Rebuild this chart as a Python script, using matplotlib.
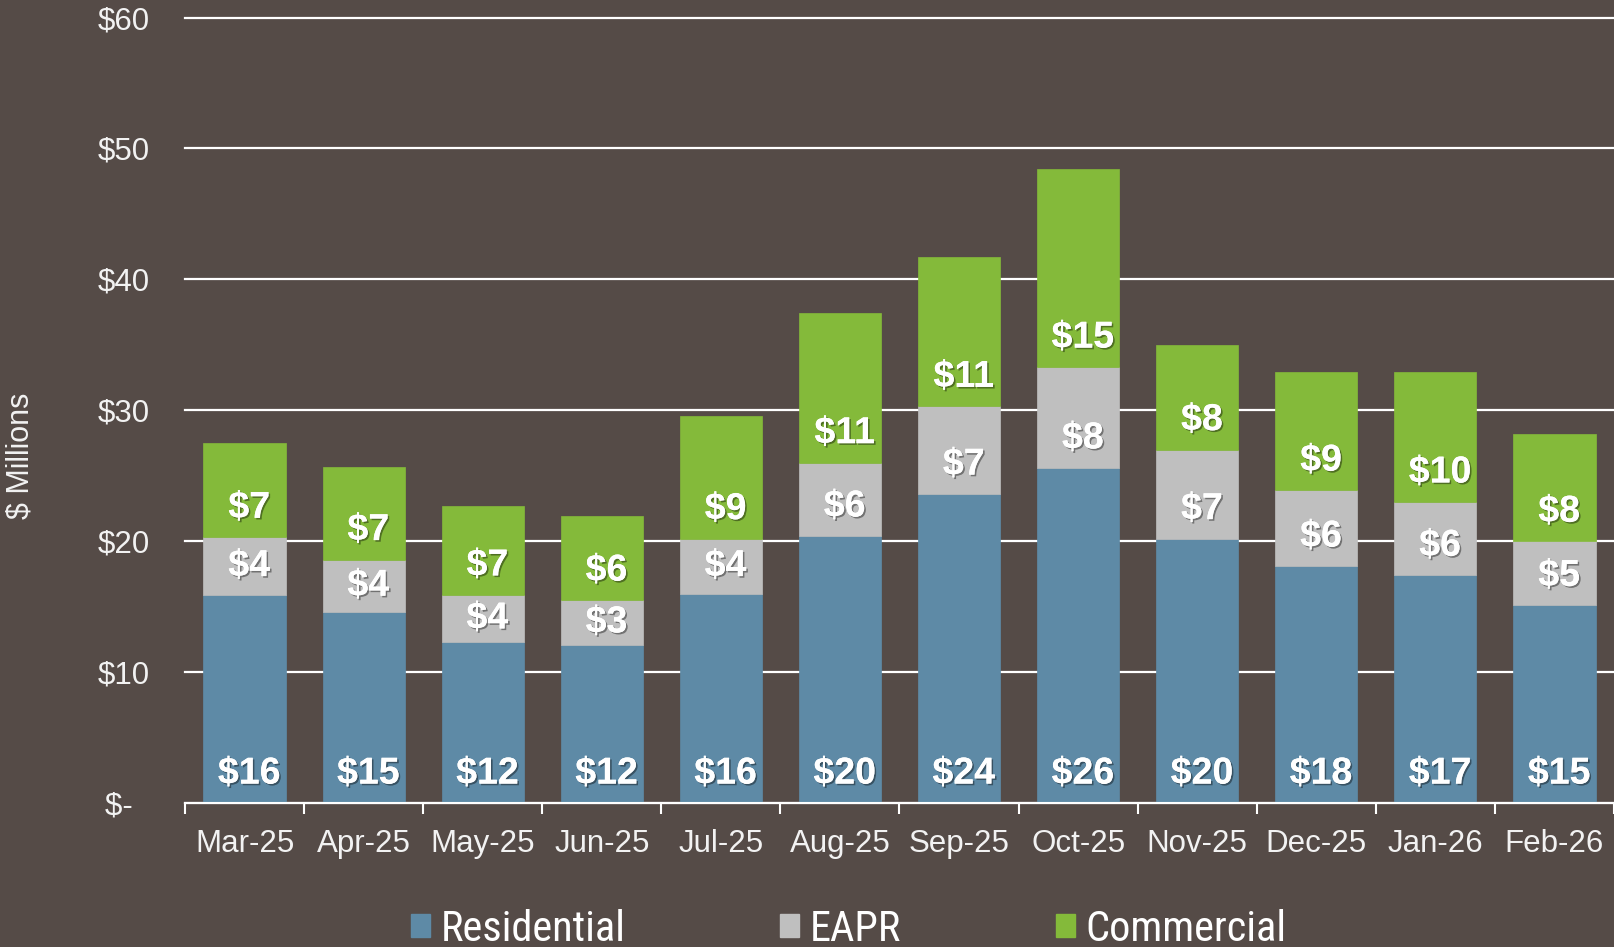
import matplotlib
matplotlib.use("Agg")
import matplotlib.pyplot as plt
import matplotlib.patheffects as pe
from matplotlib.patches import Patch
from matplotlib import font_manager
import numpy as np

months = ["Mar-25", "Apr-25", "May-25", "Jun-25", "Jul-25", "Aug-25",
          "Sep-25", "Oct-25", "Nov-25", "Dec-25", "Jan-26", "Feb-26"]
residential = [15.9, 14.6, 12.3, 12.1, 16.0, 20.4, 23.6, 25.6, 20.2, 18.1, 17.4, 15.1]
eapr = [4.4, 4.0, 3.6, 3.4, 4.2, 5.6, 6.7, 7.7, 6.8, 5.8, 5.6, 4.9]
commercial = [7.2, 7.1, 6.8, 6.4, 9.4, 11.4, 11.4, 15.1, 8.0, 9.0, 9.9, 8.2]
series_names = ["Residential", "EAPR", "Commercial"]
yticks = [0, 10, 20, 30, 40, 50, 60]
ytick_labels = ["$-  ", "$10", "$20", "$30", "$40", "$50", "$60"]

BG = "#554B47"
COLORS = ["#5E8AA6", "#BFBFBF", "#84BA3A"]
TXT = "#F2F2F2"

names = {f.name for f in font_manager.fontManager.ttflist}
BASE = "Liberation Sans" if "Liberation Sans" in names else "DejaVu Sans"
NARROW = None
for cand in ["Liberation Sans Narrow", "Arial Narrow", "Roboto Condensed", "Open Sans Condensed"]:
    if cand in names:
        NARROW = cand
        break
plt.rcParams["font.family"] = [BASE, "DejaVu Sans"]

fig = plt.figure(figsize=(16.14, 9.47), dpi=100, facecolor=BG)
ax = fig.add_axes([0.1146, 0.152, 0.8854, 0.8295])
ax.set_facecolor(BG)

x = np.arange(len(months))
width = 0.69
bottom = np.zeros(len(months))
shadow = [pe.withSimplePatchShadow(offset=(1.2, -1.2), shadow_rgbFace="black", alpha=0.4)]
for vals, col in zip([residential, eapr, commercial], COLORS):
    vals = np.array(vals)
    ax.bar(x, vals, width, bottom=bottom, color=col, zorder=3,
           edgecolor=col, linewidth=0.5)
    for xi, b, v in zip(x, bottom, vals):
        yc = b + min(2.25, v / 2)
        t = ax.text(xi + 0.04, yc, f"${v:.0f}", ha="center", va="center",
                    fontsize=27, fontweight="bold", color="white", zorder=5)
        t.set_path_effects(shadow + [pe.Normal()])
    bottom = bottom + vals

ax.set_xlim(-0.5, len(months) - 0.5)
ax.set_ylim(0, 60)
ax.set_yticks(yticks)
ax.set_yticklabels(ytick_labels)
ax.set_xticks(x)
ax.set_xticklabels(months)
ax.set_xticks(np.arange(-0.5, len(months), 1.0), minor=True)
ax.tick_params(axis="y", length=0, pad=25, labelsize=22.5, labelcolor=TXT)
ax.tick_params(axis="x", which="major", length=0, pad=19, labelsize=22.5, labelcolor=TXT)
ax.tick_params(axis="x", which="minor", length=8, width=1.5, color="white", direction="out")
for s in ["top", "right", "left"]:
    ax.spines[s].set_visible(False)
ax.spines["bottom"].set_color("white")
ax.spines["bottom"].set_linewidth(1.5)
ax.spines["bottom"].set_zorder(4)
ax.yaxis.grid(True, color="white", linewidth=1.6, zorder=1)
ax.set_axisbelow(True)
for gl in ax.yaxis.get_gridlines():
    gl.set_clip_on(False)

fig.text(0.0124, 1 - 456 / 947, "$ Millions", rotation=90, ha="center", va="center",
         fontsize=22, color=TXT)

handles = [Patch(facecolor=c, edgecolor=c) for c in COLORS]
if NARROW:
    lfont = dict(family=NARROW, size=30.5)
    cs = 3.65
else:
    lfont = dict(family=BASE, size=27)
    cs = 4.4
leg = fig.legend(handles, series_names, loc="center left", ncol=3,
                 bbox_to_anchor=(0.2545, 0.019), frameon=False, prop=lfont,
                 handlelength=0.45, handleheight=0.45, handletextpad=0.25,
                 columnspacing=cs, borderaxespad=0, borderpad=0)
for t in leg.get_texts():
    t.set_color("white")

fig.savefig("out.png", dpi=100, facecolor=BG)
